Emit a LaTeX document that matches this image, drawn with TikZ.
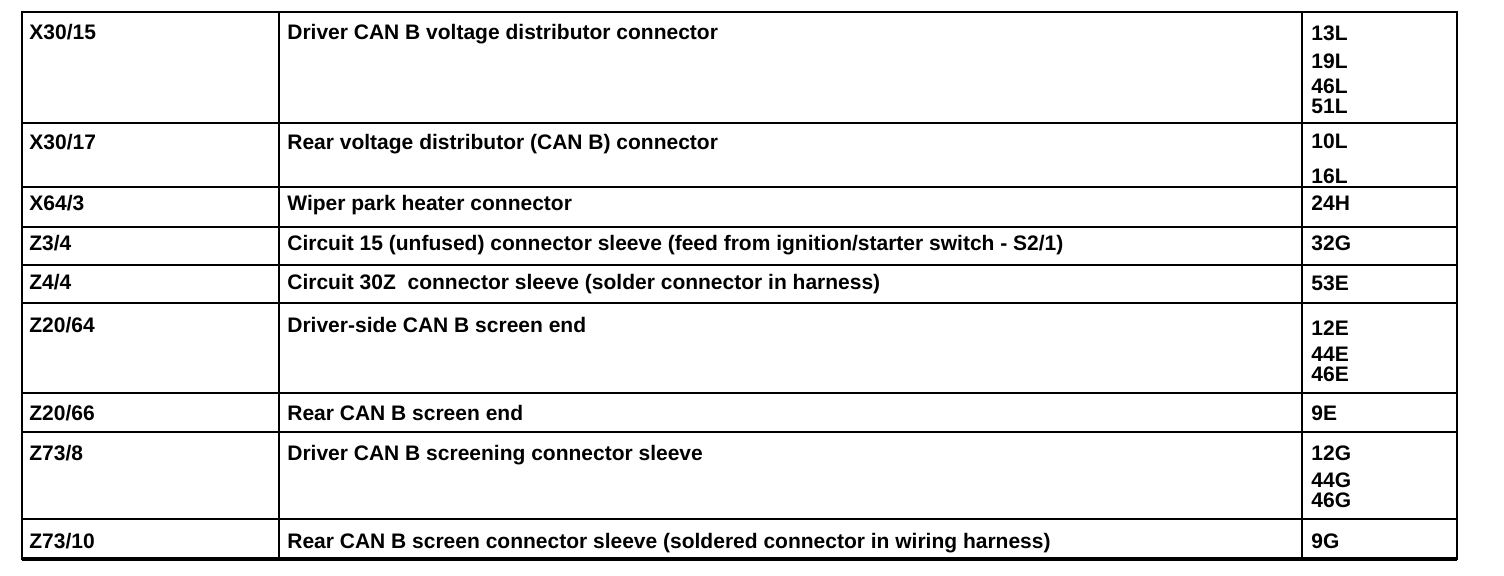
\documentclass[tikz,border=0pt]{standalone}
\usepackage{fontspec}
\setmainfont{Liberation Sans}
\begin{document}
\begin{tikzpicture}[x=0.5pt,y=-0.5pt,
		cell/.style={anchor=base west,inner sep=0pt,font=\fontsize{10.5}{12}\selectfont\bfseries},
		rule/.style={line width=0.9pt}]
		\useasboundingbox (0,0) rectangle (1504,576);
		% grid of the table
		\draw[line width=1.2pt] (22,12) rectangle (1457,559);
		\draw[line width=1.6pt] (22,559) -- (1457,559);
		\foreach \y in {123,187,227,265,303,393,432,519}
			\draw[rule] (22,\y) -- (1457,\y);
		\draw[rule] (279,12) -- (279,559)
			(1302,12) -- (1302,559);
		% first column
		\node[cell] (id1) at (29,40) {X30/15};
		\node[cell] (id2) at (29,150) {X30/17};
		\node[cell] (id3) at (29,211) {X64/3};
		\node[cell] (id4) at (29,251) {Z3/4};
		\node[cell] (id5) at (29,290) {Z4/4};
		\node[cell] (id6) at (29,333) {Z20/64};
		\node[cell] (id7) at (29,421) {Z20/66};
		\node[cell] (id8) at (29,461) {Z73/8};
		\node[cell] (id9) at (29,549) {Z73/10};
		% second column
		\node[cell] (desc1) at (287,40) {Driver CAN B voltage distributor connector};
		\node[cell] (desc2) at (287,150) {Rear voltage distributor (CAN B) connector};
		\node[cell] (desc3) at (287,211) {Wiper park heater connector};
		\node[cell] (desc4) at (287,251) {Circuit 15 (unfused) connector sleeve (feed from ignition/starter switch - S2/1)};
		\node[cell] (desc5) at (287,290) {Circuit 30Z\ \ connector sleeve (solder connector in harness)};
		\node[cell] (desc6) at (287,333) {Driver-side CAN B screen end};
		\node[cell] (desc7) at (287,421) {Rear CAN B screen end};
		\node[cell] (desc8) at (287,461) {Driver CAN B screening connector sleeve};
		\node[cell] (desc9) at (287,549) {Rear CAN B screen connector sleeve (soldered connector in wiring harness)};
		% third column
		\node[cell] (grid1a) at (1311,41) {13L};
		\node[cell] (grid1b) at (1311,69) {19L};
		\node[cell] (grid1c) at (1311,94) {46L};
		\node[cell] (grid1d) at (1311,114) {51L};
		\node[cell] (grid2a) at (1311,149) {10L};
		\node[cell] (grid2b) at (1311,184) {16L};
		\node[cell] (grid3) at (1311,211) {24H};
		\node[cell] (grid4) at (1311,251) {32G};
		\node[cell] (grid5) at (1311,291) {53E};
		\node[cell] (grid6a) at (1311,336) {12E};
		\node[cell] (grid6b) at (1311,362) {44E};
		\node[cell] (grid6c) at (1311,382) {46E};
		\node[cell] (grid7) at (1311,421) {9E};
		\node[cell] (grid8a) at (1311,461) {12G};
		\node[cell] (grid8b) at (1311,488) {44G};
		\node[cell] (grid8c) at (1311,508) {46G};
		\node[cell] (grid9) at (1311,549) {9G};
	\end{tikzpicture}
\end{document}
